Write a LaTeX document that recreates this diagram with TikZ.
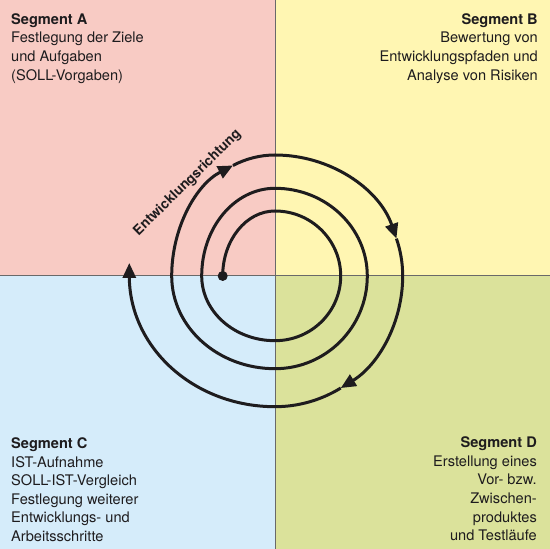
\documentclass[tikz,border=0pt]{standalone}
\usepackage{fontspec}
\setmainfont{TeX Gyre Heros}
\usetikzlibrary{arrows.meta}
\definecolor{segA}{RGB}{248,203,196}
\definecolor{segB}{RGB}{255,246,178}
\definecolor{segC}{RGB}{213,236,250}
\definecolor{segD}{RGB}{219,226,155}
\definecolor{ink}{RGB}{30,28,30}
\definecolor{divider}{RGB}{105,105,105}
\tikzset{
  spiral/.style={line width=3pt, draw=ink},
  tip/.style={-{Triangle[length=15pt,width=13pt]}},
  segtext/.style={inner sep=0pt, text=ink, font=\fontsize{14.6}{18.6}\selectfont},
  divline/.style={draw=divider, line width=1pt}
}
\begin{document}
\begin{tikzpicture}[x=1pt,y=1pt]
\useasboundingbox (0,0) rectangle (550,549);
% quadrants
\fill[segA] (0,273) rectangle (275,549);
\fill[segB] (275,273) rectangle (550,549);
\fill[segC] (0,0) rectangle (275,273);
\fill[segD] (275,0) rectangle (550,273);
\draw[divline] (275,0) -- (275,549);
\draw[divline] (0,273) -- (550,273);
% texts
\node[segtext, anchor=north west, align=left] (a) at (11,535.7)
  {\textbf{Segment A}\\Festlegung der Ziele\\und Aufgaben\\(SOLL-Vorgaben)};
\node[segtext, anchor=north east, align=right] (b) at (538,535.7)
  {\textbf{Segment B}\\Bewertung von\\Entwicklungspfaden und\\Analyse von Risiken};
\node[segtext, anchor=north west, align=left] (c) at (11,111.5)
  {\textbf{Segment C}\\IST-Aufnahme\\SOLL-IST-Vergleich\\Festlegung weiterer\\Entwicklungs- und\\Arbeitsschritte};
\node[segtext, anchor=north east, align=right] (d) at (537,112.3)
  {\textbf{Segment D}\\Erstellung eines\\Vor- bzw.\\Zwischen-\\produktes\\und Testläufe};
\node[inner sep=0pt, text=ink, font=\bfseries\fontsize{13.8}{16}\selectfont, rotate=44.5] (dir) at (187.5,366) {Entwicklungsrichtung};
% spiral
\coordinate (s) at (222.7,273);
\fill[ink] (s) circle (5);
\draw[spiral, tip] (s)
  arc[start angle=180, end angle=90, x radius=52.3, y radius=65]
  arc[start angle=90, end angle=0, x radius=65.7, y radius=65]
  arc[start angle=0, end angle=-90, x radius=65.7, y radius=64.7]
  arc[start angle=-90, end angle=-180, x radius=73.3, y radius=64.7]
  arc[start angle=180, end angle=90, x radius=73.3, y radius=87.7]
  arc[start angle=90, end angle=0, x radius=92.3, y radius=87.7]
  arc[start angle=0, end angle=-90, x radius=92.3, y radius=92.7]
  arc[start angle=-90, end angle=-180, x radius=103.3, y radius=92.7]
  arc[start angle=180, end angle=114, x radius=103.3, y radius=121] coordinate (a1);
\draw[spiral, tip] (a1)
  arc[start angle=114, end angle=90, x radius=103.3, y radius=121]
  arc[start angle=90, end angle=18, x radius=127.7, y radius=121] coordinate (a2);
\draw[spiral, tip] (a2)
  arc[start angle=18, end angle=0, x radius=127.7, y radius=121]
  arc[start angle=0, end angle=-59, x radius=127.7, y radius=130.7] coordinate (a3);
\draw[spiral, tip] (a3)
  arc[start angle=-59, end angle=-90, x radius=127.7, y radius=130.7]
  arc[start angle=-90, end angle=-180, x radius=145.7, y radius=130.7]
  -- ++(0,13) coordinate (a4);
\end{tikzpicture}
\end{document}
